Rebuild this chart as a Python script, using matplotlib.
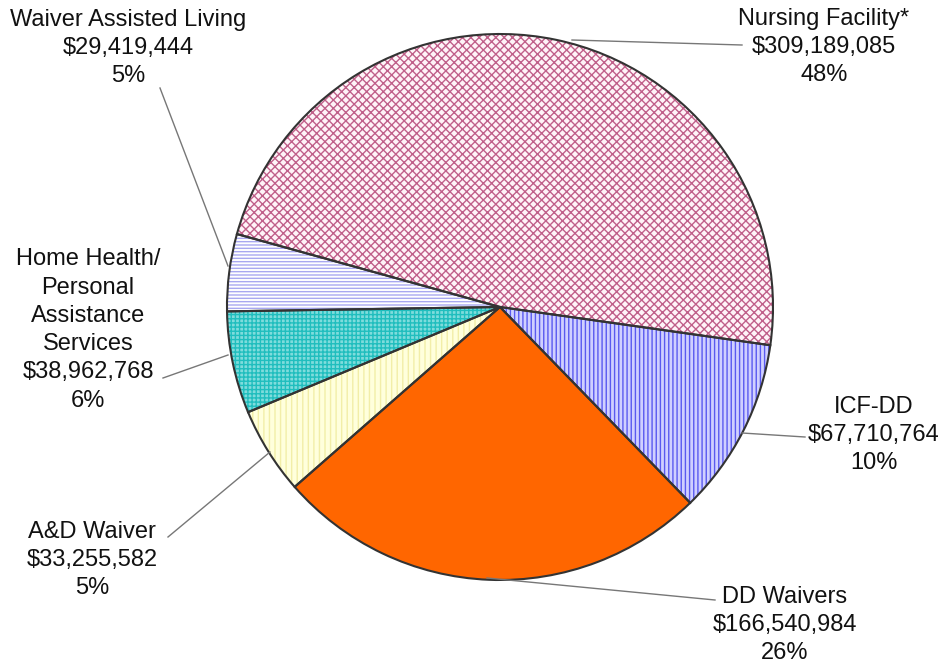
import matplotlib.pyplot as plt
import matplotlib as mpl

plt.rcParams["font.family"] = ["Liberation Sans", "DejaVu Sans"]

# data, clockwise from the top-left edge
labels = ["Nursing Facility*", "ICF-DD", "DD Waivers", "A&D Waiver",
          "Home Health/\nPersonal\nAssistance\nServices", "Waiver Assisted Living"]
amounts = [309189085, 67710764, 166540984, 33255582, 38962768, 29419444]
percents = ["48%", "10%", "26%", "5%", "6%", "5%"]

faces = ["#FFF4F8", "#D0D0FF", "#FF6600", "#FFFFDC", "#7FDCDC", "#FFFFFF"]
hatch_cols = ["#C0608A", "#5A5AF0", "#FF6600", "#F2EEA8", "#20BEBE", "#A8A8F0"]
hatches = ["xxxx", "||||", None, "|||", "++++", "-----"]

# label text centre and leader line (pie point -> label point), pixels from top-left
label_pos = [(824, 47), (874, 435), (785, 625), (92, 560), (88, 330), (128, 48)]
leaders = [((572, 40), (742, 45)), ((742, 433), (805, 437)), ((487, 578), (715, 600)),
           ((270, 452), (168, 537)), ((228, 355), (163, 378)), ((228, 266), (160, 88))]

W, H = 946, 667
fig = plt.figure(figsize=(W / 100, H / 100), dpi=100)
ax = fig.add_axes([0, 0, 1, 1])

cx, cy, r = 500, H - 307, 273
mpl.rcParams["hatch.linewidth"] = 1.0

# hatched fill layer (edge colour doubles as hatch colour)
wedges, _ = ax.pie(amounts, center=(cx, cy), radius=r, startangle=164.5,
                   counterclock=False, frame=True)
for w, fc, hc, h in zip(wedges, faces, hatch_cols, hatches):
    w.set_facecolor(fc)
    w.set_edgecolor(hc)
    w.set_linewidth(0)
    if h:
        w.set_hatch(h)

# outline layer
outl, _ = ax.pie(amounts, center=(cx, cy), radius=r, startangle=164.5,
                 counterclock=False, frame=True)
for w in outl:
    w.set_facecolor("none")
    w.set_edgecolor("#333333")
    w.set_linewidth(1.5)

ax.set_xlim(0, W)
ax.set_ylim(0, H)
ax.set_aspect("equal")
ax.axis("off")

for lab, amt, pct, (lx, ly), (p0, p1) in zip(labels, amounts, percents, label_pos, leaders):
    ax.plot([p0[0], p1[0]], [H - p0[1], H - p1[1]], color="#777777", lw=1.0)
    ax.text(lx, H - ly, f"{lab}\n${amt:,}\n{pct}", ha="center", va="center",
            fontsize=17, linespacing=1.37, color="#111111")

fig.savefig("out.png", dpi=100)
